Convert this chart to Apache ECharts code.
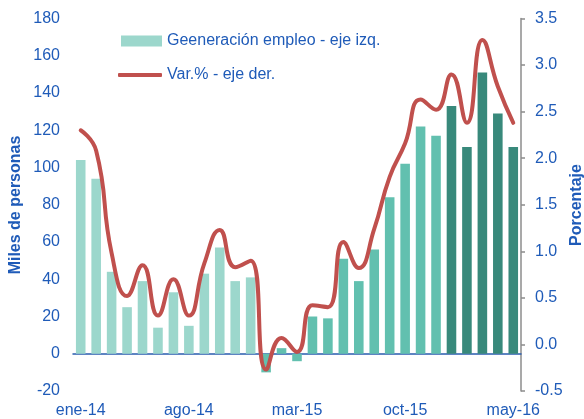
<!DOCTYPE html>
<html>
<head>
<meta charset="utf-8">
<script src="https://cdn.jsdelivr.net/npm/echarts@6/dist/echarts.min.js"></script>
<style>
html,body{margin:0;padding:0;background:#fff;}
#c{width:584px;height:419px;}
</style>
</head>
<body>
<div id="c"></div>
<script>
const categories = ['ene-14','feb-14','mar-14','abr-14','may-14','jun-14','jul-14','ago-14','sep-14','oct-14','nov-14','dic-14',
  'ene-15','feb-15','mar-15','abr-15','may-15','jun-15','jul-15','ago-15','sep-15','oct-15','nov-15','dic-15',
  'ene-16','feb-16','mar-16','abr-16','may-16'];
const empleo = [104, 94, 44, 25, 39, 14, 33, 15, 43, 57, 39, 41,
  -10, 3, -4, 20, 19, 51, 39, 56, 84, 102, 122, 117,
  133, 111, 151, 129, 111];
const variacion = [2.30, 2.08, 0.98, 0.52, 0.85, 0.31, 0.70, 0.31, 0.87, 1.23, 0.83, 0.90,
  -0.27, 0.07, -0.08, 0.42, 0.40, 1.10, 0.82, 1.24, 1.80, 2.16, 2.63, 2.52,
  2.90, 2.38, 3.27, 2.77, 2.38];
const leftTicks = {min: -20, max: 180, interval: 20};
const rightTicks = {min: -0.5, max: 3.5, interval: 0.5};
const barName = 'Geeneración empleo - eje izq.';
const lineName = 'Var.% - eje der.';

const yearColors = {'14': '#9CD7CC', '15': '#62C0AF', '16': '#38897B'};
const blue = '#1F5BB8';
const font = 'Liberation Sans, Arial, sans-serif';

const chart = echarts.init(document.getElementById('c'), null, {renderer: 'canvas'});
chart.setOption({
  animation: false,
  backgroundColor: '#fff',
  grid: {left: 73, right: 63, top: 18.5, bottom: 28, containLabel: false, outerBoundsMode: 'none'},
  legend: [
    {data: [{name: barName, icon: 'rect'}], left: 121, top: 33, itemWidth: 41, itemHeight: 11,
     textStyle: {color: blue, fontSize: 16, fontFamily: font}, padding: 0, selectedMode: false},
    {data: [{name: lineName, icon: 'roundRect'}], left: 118, top: 65, itemWidth: 44, itemHeight: 4,
     textStyle: {color: blue, fontSize: 16, fontFamily: font, lineHeight: 20}, padding: 0, selectedMode: false}
  ],
  xAxis: {
    type: 'category', data: categories, boundaryGap: true,
    axisLine: {onZero: true, lineStyle: {color: '#2A5CAE', width: 1.5}},
    axisTick: {interval: 6, length: 4, lineStyle: {color: '#2A5CAE', width: 1.5}},
    axisLabel: {interval: 6, margin: 12, color: blue, fontSize: 16, fontFamily: font}
  },
  yAxis: [
    {type: 'value', min: leftTicks.min, max: leftTicks.max, interval: leftTicks.interval,
     splitLine: {show: false}, axisLine: {show: false}, axisTick: {show: false},
     axisLabel: {color: blue, fontSize: 16, fontFamily: font, margin: 13}},
    {type: 'value', position: 'right', min: rightTicks.min, max: rightTicks.max, interval: rightTicks.interval,
     splitLine: {show: false},
     axisLine: {show: true, onZero: false, lineStyle: {color: '#8C8C8C', width: 1.5}},
     axisTick: {show: true, inside: false, length: 4, lineStyle: {color: '#8C8C8C', width: 1.5}},
     axisLabel: {color: blue, fontSize: 16, fontFamily: font, margin: 14, formatter: v => v.toFixed(1)}}
  ],
  graphic: [
    {type: 'text', x: 16, y: 205, rotation: Math.PI / 2,
     style: {text: 'Miles de personas', fill: blue, font: 'bold 16px ' + font, align: 'center', verticalAlign: 'middle'}},
    {type: 'text', x: 577, y: 205, rotation: Math.PI / 2,
     style: {text: 'Porcentaje', fill: blue, font: 'bold 16px ' + font, align: 'center', verticalAlign: 'middle'}}
  ],
  series: [
    {name: barName, type: 'bar', yAxisIndex: 0, barCategoryGap: '38%',
     itemStyle: {color: yearColors['14']},
     data: empleo.map((v, i) => ({value: v, itemStyle: {color: yearColors[categories[i].slice(-2)]}}))},
    {name: lineName, type: 'line', yAxisIndex: 1, smooth: 0.5, symbol: 'none',
     itemStyle: {color: '#C0504D'},
     lineStyle: {color: '#C0504D', width: 4, cap: 'round', join: 'round'},
     data: variacion}
  ]
});
</script>
</body>
</html>
